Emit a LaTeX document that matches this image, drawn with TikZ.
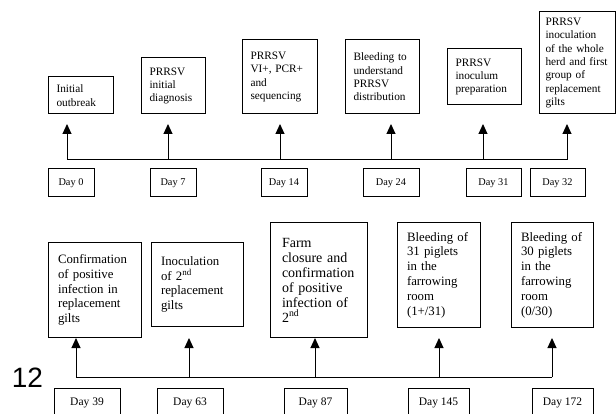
\documentclass[tikz,border=0pt]{standalone}
\usepackage{fontspec}
\setmainfont{Liberation Serif}
\newfontfamily\pagenumfont{Liberation Sans}
\usetikzlibrary{arrows.meta}

\begin{document}
\begin{tikzpicture}[x=1pt,y=-1pt]
		\tikzstyle{event}=[draw=black, line width=1pt, align=left, inner xsep=8.5pt, inner ysep=0pt, font=\fontsize{11.3}{13.4}\selectfont]
		\tikzstyle{event_big}=[event, inner xsep=10pt, font=\fontsize{12.8}{14.8}\selectfont]
		\tikzstyle{day}=[draw=black, line width=1pt, inner sep=0pt, minimum height=28pt, font=\fontsize{10.3}{12}\selectfont]
		\tikzstyle{day_big}=[day, minimum height=30pt, font=\fontsize{11.5}{13}\selectfont]
		\tikzstyle{timeline}=[line width=1pt]
		\tikzstyle{pointer}=[line width=1pt, -{Triangle[width=9pt,length=10pt]}]

		\useasboundingbox (0,0) rectangle (616,414);
		\clip (0,0) rectangle (616,414);

		% first period
		\node [event, text width=48pt, minimum height=37pt] (outbreak) at (80.5,95.5) {Initial\\outbreak};
		\node [event, text width=47pt, minimum height=56pt] (diagnosis) at (173,86) {PRRSV\\initial\\diagnosis};
		\node [event, text width=58pt, minimum height=74pt] (sequencing) at (279.5,77) {PRRSV\\VI+, PCR+\\and\\sequencing};
		\node [event, text width=57pt, minimum height=74pt] (bleeding1) at (382,77) {Bleeding to\\understand\\PRRSV\\distribution};
		\node [event, text width=57pt, minimum height=56pt] (inoculum) at (484,77) {PRRSV\\inoculum\\preparation};
		\node [event, inner xsep=6.5pt, text width=63pt, minimum height=102pt] (herd) at (577,63) {PRRSV\\inoculation\\of the whole\\herd and first\\group of\\replacement\\gilts};

		\node [day, minimum width=46pt] (d0) at (71,183) {Day 0};
		\node [day, minimum width=46pt] (d7) at (173,183) {Day 7};
		\node [day, minimum width=46pt] (d14) at (284,183) {Day 14};
		\node [day, minimum width=56pt] (d24) at (391,183) {Day 24};
		\node [day, minimum width=55pt] (d31) at (493.5,183) {Day 31};
		\node [day, minimum width=55pt] (d32) at (557.5,183) {Day 32};

		\coordinate (a0) at (67,160);
		\coordinate (a7) at (168,160);
		\coordinate (a14) at (280,160);
		\coordinate (a24) at (391,160);
		\coordinate (a31) at (483,160);
		\coordinate (a32) at (567,160);
		\draw [timeline] (a0) -- (a32);
		\foreach \a in {a0,a7,a14,a24,a31,a32}
			\draw [pointer] (\a) -- ([yshift=36pt]\a);

		% second period
		\node [event_big, text width=73pt, minimum height=94pt] (gilts1) at (94.5,290) {Confirmation\\of positive\\infection in\\replacement\\gilts};
		\node [event_big, text width=72pt, minimum height=83pt] (gilts2) at (197,284.5) {Inoculation\\of 2\textsuperscript{nd}\\replacement\\gilts};
		\node [event_big, inner xsep=12pt, text width=73pt, minimum height=114pt, font=\fontsize{14}{15}\selectfont] (closure) at (318.5,280) {Farm\\closure and\\confirmation\\of positive\\infection of\\2\textsuperscript{nd}};
		\node [event_big, text width=63pt, minimum height=104pt] (piglets31) at (438.5,275) {Bleeding of\\31 piglets\\in the\\farrowing\\room\\(1+/31)};
		\node [event_big, text width=62pt, minimum height=104pt] (piglets30) at (552,275) {Bleeding of\\30 piglets\\in the\\farrowing\\room\\(0/30)};

		\node [day_big, minimum width=66pt] (d39) at (87,403) {Day 39};
		\node [day_big, minimum width=66pt] (d63) at (190,403) {Day 63};
		\node [day_big, minimum width=63pt] (d87) at (315.5,403) {Day 87};
		\node [day_big, minimum width=61pt] (d145) at (438.5,403) {Day 145};
		\node [day_big, minimum width=61pt] (d172) at (562.5,403) {Day 172};

		\coordinate (a39) at (76,377);
		\coordinate (a63) at (189,377);
		\coordinate (a87) at (315,377);
		\coordinate (a145) at (439,377);
		\coordinate (a172) at (552,377);
		\draw [timeline] (a39) -- (a172);
		\foreach \a in {a39,a63,a87,a145,a172}
			\draw [pointer] (\a) -- ([yshift=39pt]\a);

		\node [font=\pagenumfont\fontsize{28}{28}\selectfont, inner sep=0pt] (pagenum) at (27.5,377.5) {12};

	\end{tikzpicture}
\end{document}
